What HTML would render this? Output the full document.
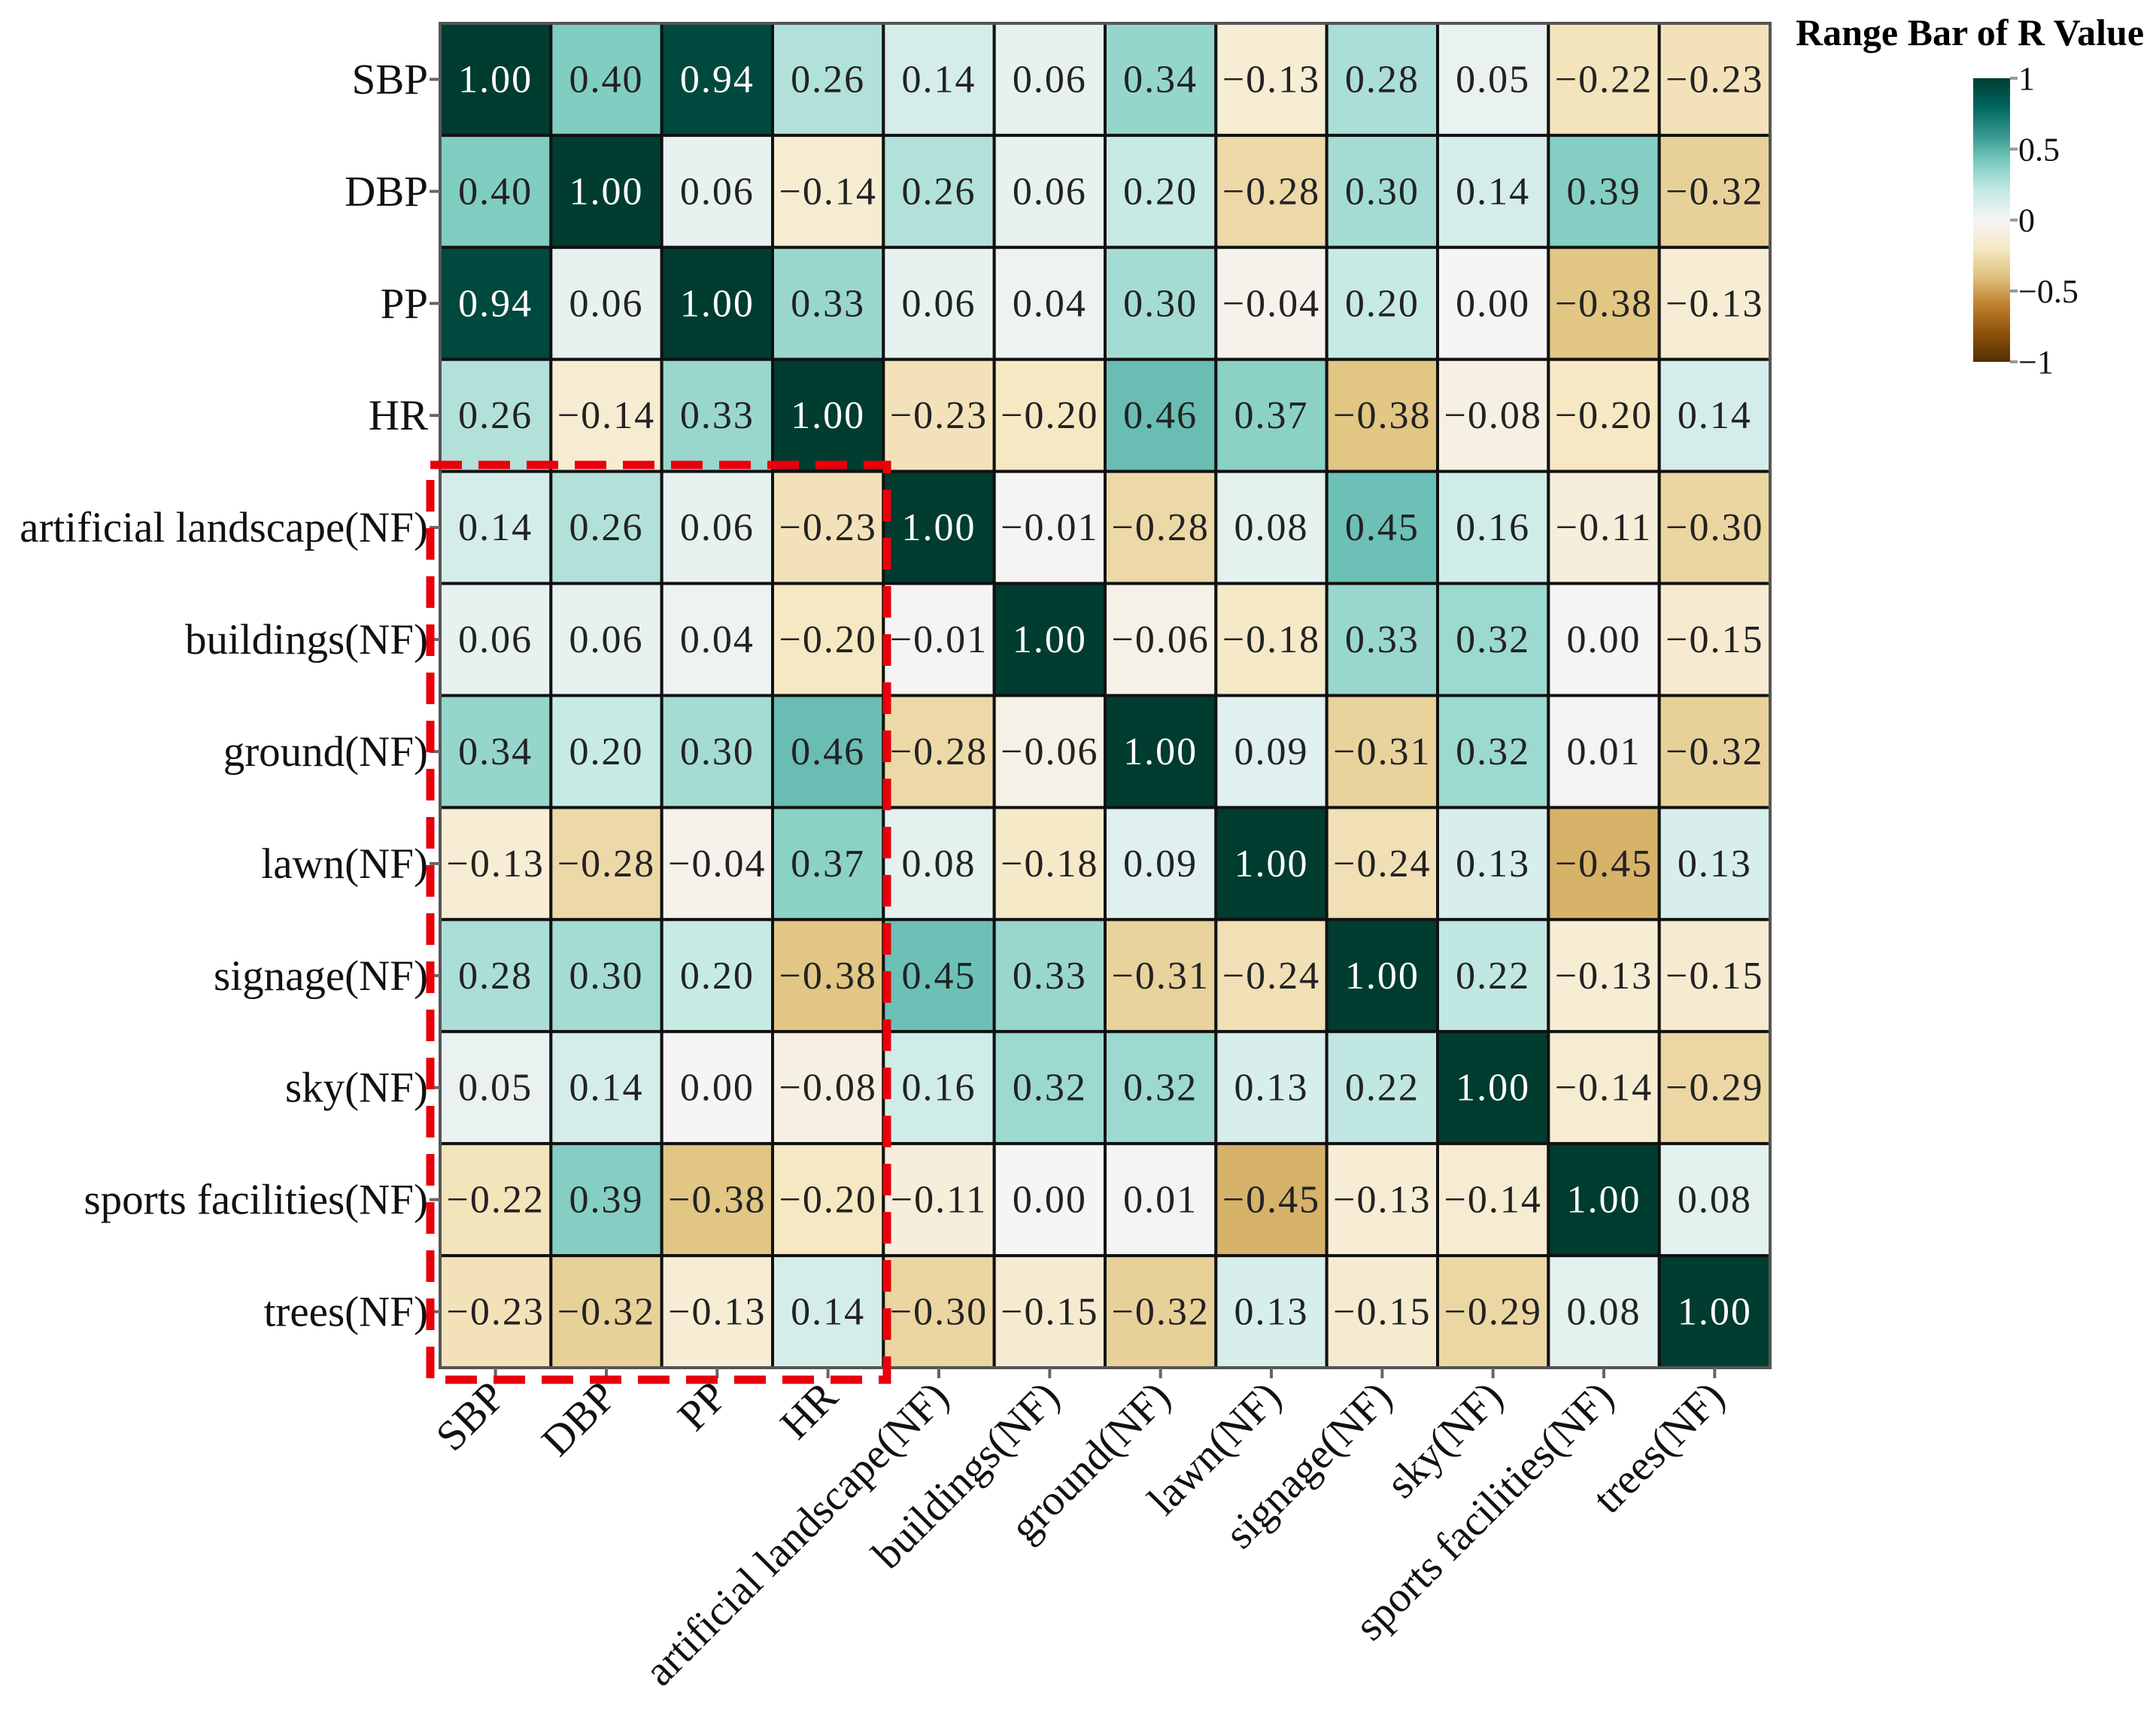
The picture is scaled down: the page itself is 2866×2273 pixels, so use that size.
<!DOCTYPE html>
<html><head><meta charset="utf-8">
<style>
html,body{margin:0;padding:0;background:#fff;}
svg{display:block;font-family:"Liberation Serif",serif;}
</style></head>
<body>
<svg id="chart" width="2866" height="2273" viewBox="0 0 2866 2273" xmlns="http://www.w3.org/2000/svg">
<defs>
<linearGradient id="cbar" x1="0" y1="1" x2="0" y2="0">
<stop offset="0" stop-color="#543005"/><stop offset="0.1" stop-color="#8c510a"/><stop offset="0.2" stop-color="#bf812d"/><stop offset="0.3" stop-color="#dfc27d"/><stop offset="0.4" stop-color="#f6e8c3"/><stop offset="0.5" stop-color="#f5f5f5"/><stop offset="0.6" stop-color="#c7eae5"/><stop offset="0.7" stop-color="#80cdc1"/><stop offset="0.8" stop-color="#35978f"/><stop offset="0.9" stop-color="#01665e"/><stop offset="1" stop-color="#003c30"/>
</linearGradient>
</defs>
<g id="cells"></g>
<g id="labels"></g>
<rect x="572" y="618" width="607" height="1216" fill="none" stroke="#e8000b" stroke-width="11" stroke-dasharray="42 22"/>
<text x="2387" y="60" font-size="50" font-weight="bold">Range Bar of R Value</text>
<rect x="2623" y="104" width="49" height="377" fill="url(#cbar)"/>
<g id="legend-ticks"></g>
</svg>
<script>
const categories = ["SBP","DBP","PP","HR","artificial landscape(NF)","buildings(NF)","ground(NF)","lawn(NF)","signage(NF)","sky(NF)","sports facilities(NF)","trees(NF)"];
const rowSBP = [1.00,0.40,0.94,0.26,0.14,0.06,0.34,-0.13,0.28,0.05,-0.22,-0.23];
const rowDBP = [0.40,1.00,0.06,-0.14,0.26,0.06,0.20,-0.28,0.30,0.14,0.39,-0.32];
const rowPP = [0.94,0.06,1.00,0.33,0.06,0.04,0.30,-0.04,0.20,0.00,-0.38,-0.13];
const rowHR = [0.26,-0.14,0.33,1.00,-0.23,-0.20,0.46,0.37,-0.38,-0.08,-0.20,0.14];
const rowArtificial = [0.14,0.26,0.06,-0.23,1.00,-0.01,-0.28,0.08,0.45,0.16,-0.11,-0.30];
const rowBuildings = [0.06,0.06,0.04,-0.20,-0.01,1.00,-0.06,-0.18,0.33,0.32,0.00,-0.15];
const rowGround = [0.34,0.20,0.30,0.46,-0.28,-0.06,1.00,0.09,-0.31,0.32,0.01,-0.32];
const rowLawn = [-0.13,-0.28,-0.04,0.37,0.08,-0.18,0.09,1.00,-0.24,0.13,-0.45,0.13];
const rowSignage = [0.28,0.30,0.20,-0.38,0.45,0.33,-0.31,-0.24,1.00,0.22,-0.13,-0.15];
const rowSky = [0.05,0.14,0.00,-0.08,0.16,0.32,0.32,0.13,0.22,1.00,-0.14,-0.29];
const rowSports = [-0.22,0.39,-0.38,-0.20,-0.11,0.00,0.01,-0.45,-0.13,-0.14,1.00,0.08];
const rowTrees = [-0.23,-0.32,-0.13,0.14,-0.30,-0.15,-0.32,0.13,-0.15,-0.29,0.08,1.00];
const matrix = [rowSBP,rowDBP,rowPP,rowHR,rowArtificial,rowBuildings,rowGround,rowLawn,rowSignage,rowSky,rowSports,rowTrees];
const legendTicks = [1,0.5,0,-0.5,-1];

const NS="http://www.w3.org/2000/svg";
const X0=585,X1=2353,Y0=31,Y1=1818;
const n=categories.length, cw=(X1-X0)/n, ch=(Y1-Y0)/n;
const xPos=i=>X0+i*cw, yPos=i=>Y0+i*ch;
const CB0=104,CB1=481;
const cbY=v=>CB0+(1-v)/2*(CB1-CB0);
const stops=["#543005","#8c510a","#bf812d","#dfc27d","#f6e8c3","#f5f5f5","#c7eae5","#80cdc1","#35978f","#01665e","#003c30"];
function hex(h){return [1,3,5].map(k=>parseInt(h.substr(k,2),16));}
function color(v){
  const t=(Math.max(-1,Math.min(1,v))+1)/2*10;
  const i=Math.min(9,Math.floor(t)), f=t-i;
  const a=hex(stops[i]), b=hex(stops[i+1]);
  return "rgb("+a.map((c,k)=>Math.round(c+(b[k]-c)*f)).join(",")+")";
}
function fmt(v){const s=Math.abs(v).toFixed(2);return (v<0?"\u2212":"")+s;}
function mk(tag,attrs,parent){const e=document.createElementNS(NS,tag);for(const k in attrs)e.setAttribute(k,attrs[k]);parent.appendChild(e);return e;}
const cells=document.getElementById("cells"), labels=document.getElementById("labels");
matrix.forEach((row,r)=>{
  row.forEach((v,c)=>{
    const rect=mk("rect",{x:xPos(c),y:yPos(r),width:cw,height:ch,fill:color(v),stroke:"#111","stroke-width":"4"},cells);
    
    
    const t=mk("text",{x:xPos(c)+cw/2,y:yPos(r)+ch/2+17,"text-anchor":"middle","font-size":"52","letter-spacing":"2",fill:v>0.75?"#fff":"#222"},cells);
    t.textContent=fmt(v);
    
    
  });
});
mk("rect",{x:X0,y:Y0,width:X1-X0,height:Y1-Y0,fill:"none",stroke:"#555","stroke-width":"4"},cells);
categories.forEach((name,i)=>{
  const yc=yPos(i)+ch/2;
  mk("line",{x1:X0-14,x2:X0,y1:yc,y2:yc,stroke:"#666","stroke-width":"4"},labels);
  const t=mk("text",{x:X0-16,y:yc+19,"text-anchor":"end","font-size":"57",fill:"#111"},labels);
  t.textContent=name;
  
  
  const xc=xPos(i)+cw/2;
  mk("line",{x1:xc,x2:xc,y1:Y1,y2:Y1+14,stroke:"#666","stroke-width":"4"},labels);
  const tx=mk("text",{x:xc+16,y:Y1+42,"text-anchor":"end","font-size":"57",fill:"#111",transform:"rotate(-45 "+(xc+16)+" "+(Y1+42)+")"},labels);
  tx.textContent=name;
  
  
});
const lt=document.getElementById("legend-ticks");
legendTicks.forEach(v=>{
  const y=cbY(v);
  mk("line",{x1:2672,x2:2682,y1:y,y2:y,stroke:"#999","stroke-width":"4"},lt);
  const t=mk("text",{x:2683,y:y+15,"font-size":"44",fill:"#111"},lt);
  t.textContent=(v<0?"\u2212":"")+Math.abs(v);
  
  
});
</script>
</body></html>
